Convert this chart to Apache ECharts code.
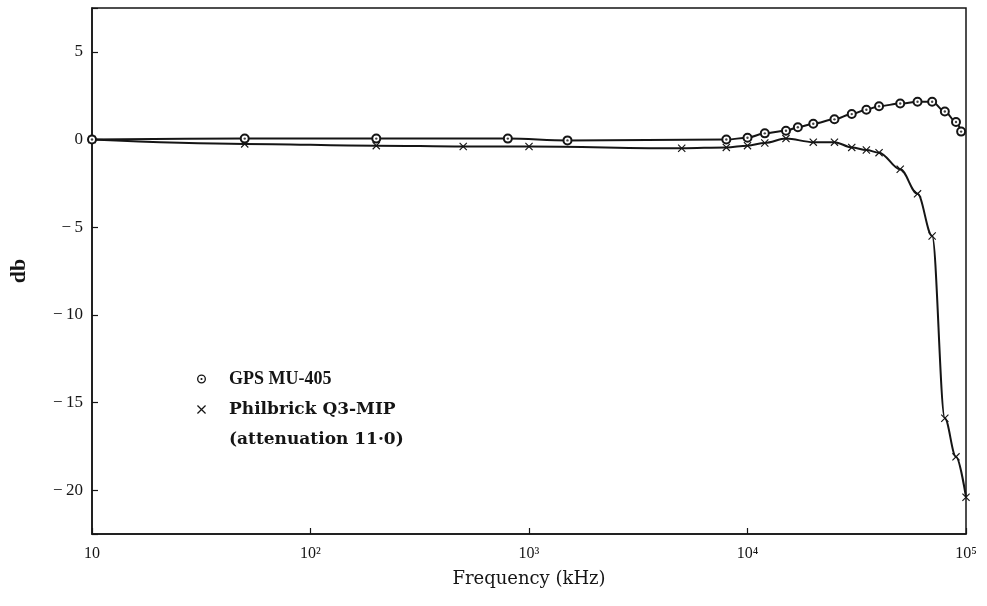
<!DOCTYPE html>
<html>
<head>
<meta charset="utf-8">
<script src="https://cdn.jsdelivr.net/npm/echarts@6/dist/echarts.min.js"></script>
<style>
  html, body { margin: 0; padding: 0; background: #fff; }
  #chart { width: 987px; height: 606px; }
</style>
</head>
<body>
<div id="chart"></div>
<script>
// Frequency response of two amplifiers (gain in db against frequency in kHz)
const gpsName = 'GPS MU-405';
const q3Name = 'Philbrick Q3-MIP';
const q3Note = '(attenuation 11·0)';

const gpsFreq = [10, 50, 200, 800, 1500, 8000, 10000, 12000, 15000, 17000, 20000, 25000, 30000, 35000, 40000, 50000, 60000, 70000, 80000, 90000, 95000];
const gpsDb   = [0, 0.05, 0.05, 0.05, -0.05, 0.0, 0.1, 0.35, 0.5, 0.7, 0.9, 1.15, 1.45, 1.7, 1.9, 2.05, 2.15, 2.15, 1.6, 1.0, 0.45];

const q3Freq = [10, 50, 200, 500, 1000, 5000, 8000, 10000, 12000, 15000, 20000, 25000, 30000, 35000, 40000, 50000, 60000, 70000, 80000, 90000, 100000];
const q3Db   = [0, -0.25, -0.35, -0.4, -0.4, -0.5, -0.45, -0.35, -0.2, 0.05, -0.15, -0.15, -0.45, -0.6, -0.75, -1.7, -3.1, -5.5, -15.9, -18.1, -20.4];

const xTickLabels = ['10', '10²', '10³', '10⁴', '10⁵'];
const yTickValues = [5, 0, -5, -10, -15, -20];

const serif = '"Liberation Serif", "DejaVu Serif", serif';
const wideSerif = '"DejaVu Serif", "Liberation Serif", serif';
const ink = '#151515';

const crossPath = 'path://M0,1 L1,0 L10,9 L9,10 Z M9,0 L10,1 L1,10 L0,9 Z';
const ringDotPath = 'path://M0,5 A5,5 0 1,0 10,5 A5,5 0 1,0 0,5 Z M1.5,5 A3.5,3.5 0 1,1 8.5,5 A3.5,3.5 0 1,1 1.5,5 Z M3.8,5 A1.2,1.2 0 1,0 6.2,5 A1.2,1.2 0 1,0 3.8,5 Z';

function pairs(xs, ys) { return xs.map((x, i) => [x, ys[i]]); }

function yLabel(v) {
  if (!yTickValues.includes(v)) return '';
  return v < 0 ? '\u2212\u2009' + Math.abs(v) : String(v);
}

const chart = echarts.init(document.getElementById('chart'), null, { renderer: 'canvas' });

chart.setOption({
  animation: false,
  backgroundColor: '#fff',
  grid: {
    left: 91, right: 21, top: 8, bottom: 72,
    show: true, borderColor: ink, borderWidth: 1.5, backgroundColor: 'transparent'
  },
  xAxis: {
    type: 'log', logBase: 10, min: 10, max: 100000,
    axisLine: { show: true, onZero: false, lineStyle: { color: ink, width: 1.5 } },
    axisTick: { show: true, inside: true, length: 6, lineStyle: { color: ink, width: 1.2 } },
    minorTick: { show: false },
    splitLine: { show: false },
    axisLabel: {
      margin: 12, color: ink, fontFamily: serif, fontSize: 16,
      formatter: v => xTickLabels[Math.round(Math.log10(v)) - 1] || ''
    },
    name: 'Frequency (kHz)', nameLocation: 'middle', nameGap: 36,
    nameTextStyle: { color: ink, fontFamily: wideSerif, fontSize: 18 }
  },
  yAxis: {
    type: 'value', min: -22.5, max: 7.5,
    axisLine: { show: true, onZero: false, lineStyle: { color: ink, width: 1.5 } },
    axisTick: { show: true, inside: true, length: 6, lineStyle: { color: ink, width: 1.2 } },
    splitLine: { show: false },
    axisLabel: { margin: 9, color: ink, fontFamily: serif, fontSize: 17, formatter: yLabel },
    name: 'db', nameLocation: 'middle', nameGap: 62, nameRotate: 90,
    nameTextStyle: { color: ink, fontFamily: serif, fontSize: 22, fontWeight: 'bold' }
  },
  legend: {
    orient: 'vertical', left: 192, top: 365,
    itemWidth: 45, itemHeight: 9, itemGap: 13,
    itemStyle: { borderWidth: 0, color: ink },
    data: [
      { name: gpsName, icon: ringDotPath },
      { name: q3Name, icon: crossPath }
    ],
    formatter: name => name === gpsName ? '{b|' + name + '}' : '{r|' + name + '}',
    textStyle: {
      color: ink, fontFamily: serif, fontSize: 18,
      rich: {
        b: { fontFamily: serif, fontSize: 18, fontWeight: 'bold', color: ink, lineHeight: 20 },
        r: { fontFamily: wideSerif, fontSize: 17, fontWeight: 'bold', color: ink, lineHeight: 20 }
      }
    }
  },
  graphic: [{
    type: 'text', left: 229, top: 431,
    style: { text: q3Note, font: 'bold 17px ' + wideSerif, fill: ink }
  }],
  series: [
    {
      name: q3Name, type: 'line', data: pairs(q3Freq, q3Db),
      smooth: 0.35, smoothMonotone: 'x',
      symbol: crossPath, symbolSize: 8, showAllSymbol: true,
      lineStyle: { color: ink, width: 2 },
      itemStyle: { color: ink },
      z: 3
    },
    {
      name: gpsName, type: 'line', data: pairs(gpsFreq, gpsDb),
      smooth: 0.35, smoothMonotone: 'x',
      symbol: 'emptyCircle', symbolSize: 8, showAllSymbol: true,
      lineStyle: { color: ink, width: 2 },
      itemStyle: { color: ink, borderColor: ink, borderWidth: 1.3 },
      z: 4
    },
    {
      name: 'gpsCentres', type: 'scatter', data: pairs(gpsFreq, gpsDb),
      symbol: 'circle', symbolSize: 2.4,
      itemStyle: { color: ink },
      silent: true, z: 5
    }
  ]
});
</script>
</body>
</html>
